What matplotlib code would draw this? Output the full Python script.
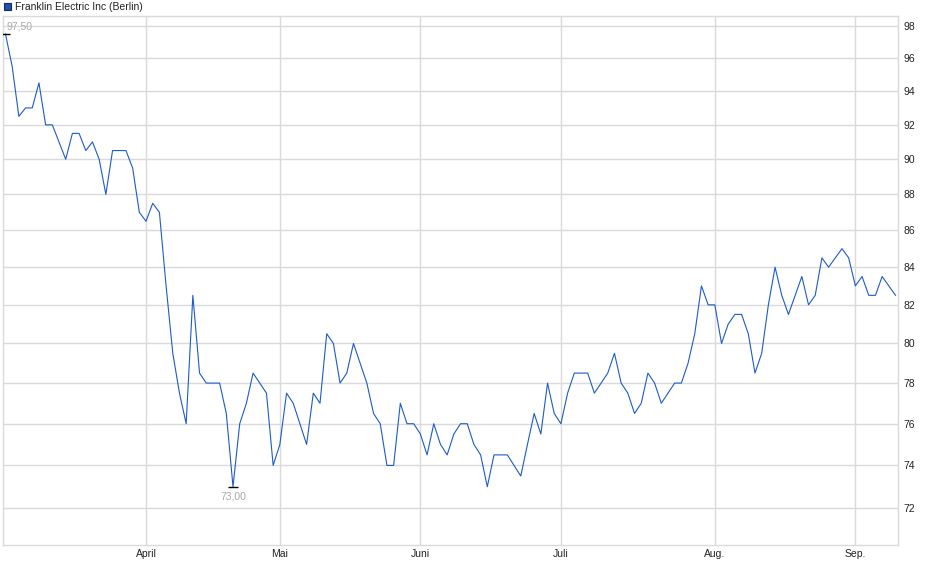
import matplotlib
matplotlib.use("Agg")
import matplotlib.pyplot as plt
from matplotlib.ticker import FixedLocator, FixedFormatter, NullLocator, NullFormatter
from matplotlib.patches import Rectangle

plt.rcParams['font.family'] = ['Liberation Sans', 'DejaVu Sans']

# Schlusskurse je Handelstag (Berlin), Anfang März bis Anfang September
prices = [
    97.5, 95.5, 92.5, 93, 93, 94.5, 92, 92, 91, 90,
    91.5, 91.5, 90.5, 91, 90, 88, 90.5, 90.5, 90.5, 89.5,
    87, 86.5, 87.5, 87, 83, 79.5, 77.5, 76, 82.5, 78.5,
    78, 78, 78, 76.5, 73, 76, 77, 78.5, 78, 77.5,
    74, 75, 77.5, 77, 76, 75, 77.5, 77, 80.5, 80,
    78, 78.5, 80, 79, 78, 76.5, 76, 74, 74, 77,
    76, 76, 75.5, 74.5, 76, 75, 74.5, 75.5, 76, 76,
    75, 74.5, 73, 74.5, 74.5, 74.5, 74, 73.5, 75, 76.5,
    75.5, 78, 76.5, 76, 77.5, 78.5, 78.5, 78.5, 77.5, 78,
    78.5, 79.5, 78, 77.5, 76.5, 77, 78.5, 78, 77, 77.5,
    78, 78, 79, 80.5, 83, 82, 82, 80, 81, 81.5,
    81.5, 80.5, 78.5, 79.5, 82, 84, 82.5, 81.5, 82.5, 83.5,
    82, 82.5, 84.5, 84, 84.5, 85, 84.5, 83, 83.5, 82.5,
    82.5, 83.5, 83, 82.5,
]
days = list(range(len(prices)))

month_pos = [21, 41, 62, 83, 106, 127]
month_labels = ['April', 'Mai', 'Juni', 'Juli', 'Aug.', 'Sep.']
y_ticks = [72, 74, 76, 78, 80, 82, 84, 86, 88, 90, 92, 94, 96, 98]

grid_col = '#dadada'
line_col = '#1c5bc8'

fig = plt.figure(figsize=(9.4, 5.79), dpi=100)
ax = fig.add_axes([3 / 940, 1 - 545 / 579, 895 / 940, 529 / 579])

ax.plot(days, prices, color=line_col, lw=0.8, zorder=3)

ax.set_yscale('log')
ax.set_ylim(70.33, 98.63)
ax.set_xlim(-0.37, len(prices) - 1 + 0.37)

ax.yaxis.set_major_locator(FixedLocator(y_ticks))
ax.yaxis.set_major_formatter(FixedFormatter([str(v) for v in y_ticks]))
ax.yaxis.set_minor_locator(NullLocator())
ax.yaxis.set_minor_formatter(NullFormatter())
ax.yaxis.tick_right()

ax.set_xticks(month_pos)
ax.set_xticklabels(month_labels)

ax.tick_params(axis='both', length=0, labelsize=7.5, colors='#222222')
ax.tick_params(axis='y', pad=4)
ax.tick_params(axis='x', pad=3)

ax.grid(True, color=grid_col, lw=1)
ax.set_axisbelow(True)
for s in ax.spines.values():
    s.set_color(grid_col)
    s.set_linewidth(1)

# Hoch / Tief markieren
i_max = prices.index(max(prices))
i_min = prices.index(min(prices))
ax.plot([i_max], [prices[i_max]], marker='_', ms=7, mew=1, color='black', zorder=4)
ax.plot([i_min], [prices[i_min]], marker='_', ms=7, mew=1, color='black', zorder=4)
ax.annotate(f"{prices[i_max]:.2f}".replace('.', ','), (i_max, prices[i_max]),
            xytext=(1, 8), textcoords='offset pixels', ha='left', va='center',
            fontsize=7.5, color='#a8a8a8')
ax.annotate(f"{prices[i_min]:.2f}".replace('.', ','), (i_min, prices[i_min]),
            xytext=(0, -10), textcoords='offset pixels', ha='center', va='center',
            fontsize=7.5, color='#a8a8a8')

# Legende oben links
fig.patches.append(Rectangle((4 / 940, 1 - 10 / 579), 7 / 940, 7 / 579,
                             transform=fig.transFigure, facecolor='#1f4fb8',
                             edgecolor='#1a2a50', lw=0.8))
fig.text(15 / 940, 1 - 6.5 / 579, 'Franklin Electric Inc (Berlin)', ha='left', va='center',
         fontsize=7.5, color='#222222')

fig.savefig('out.png', dpi=100)
